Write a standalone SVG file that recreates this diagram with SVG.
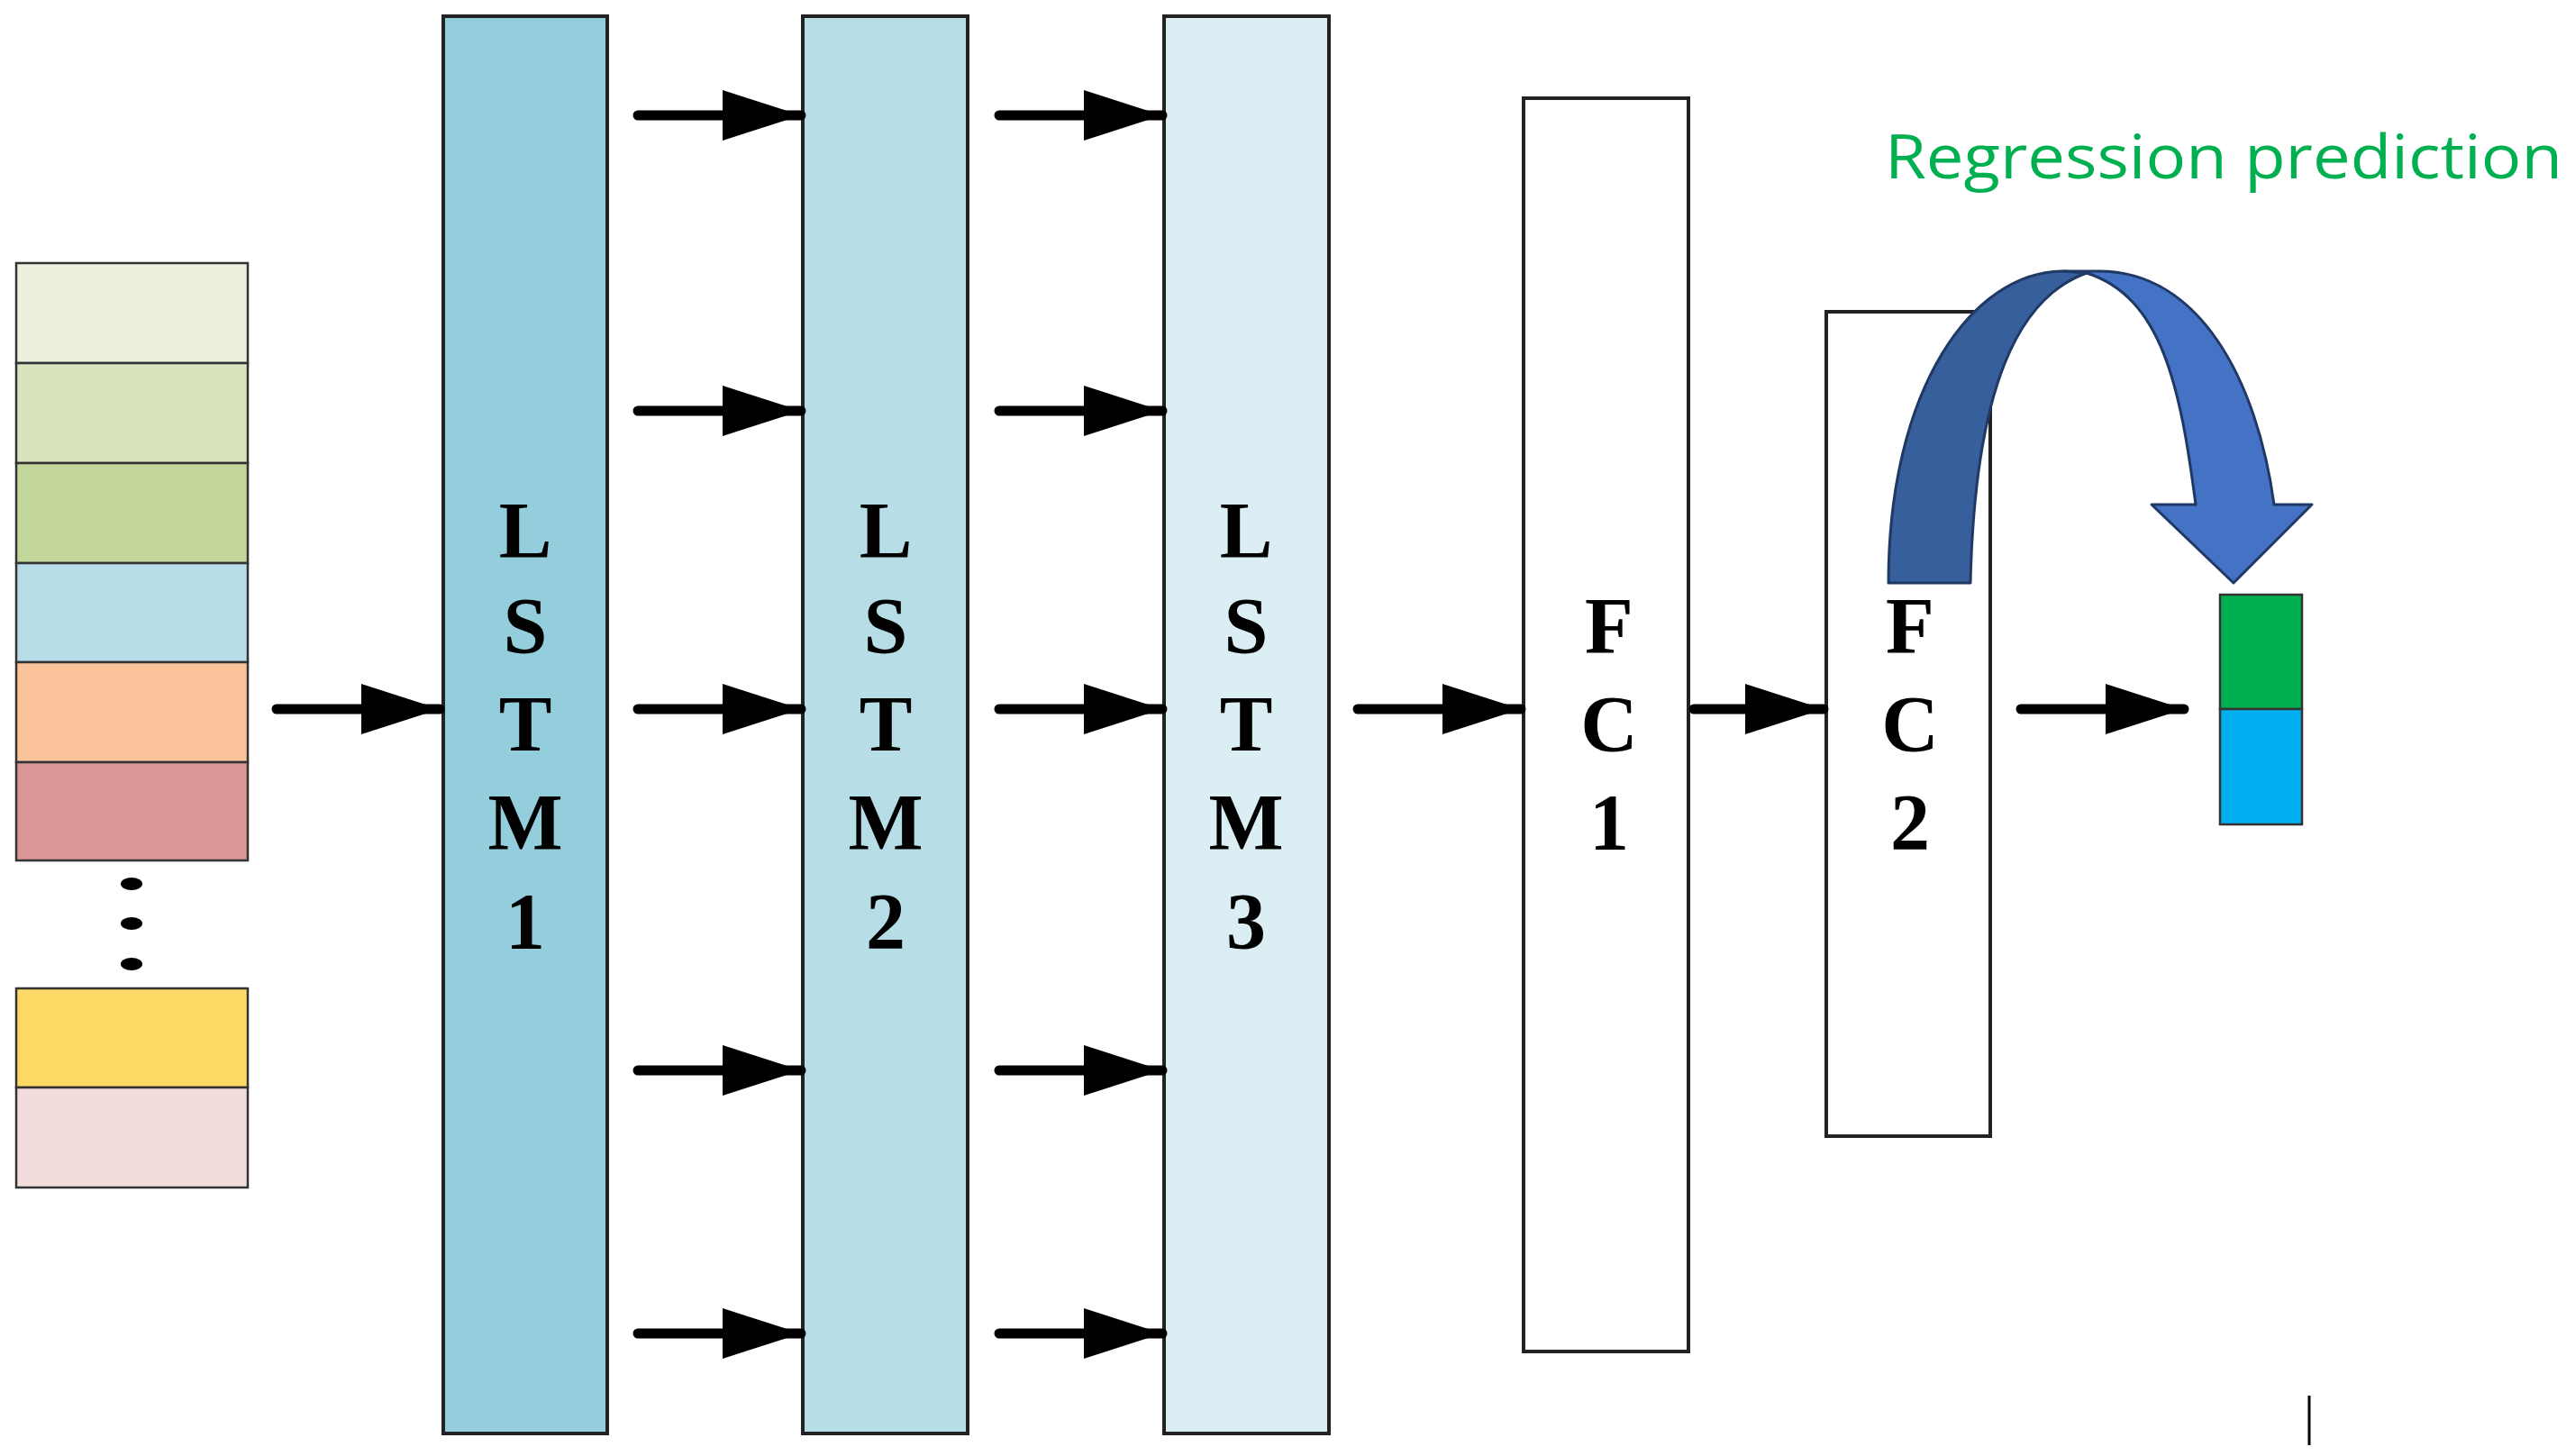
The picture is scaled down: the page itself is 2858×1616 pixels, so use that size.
<svg xmlns="http://www.w3.org/2000/svg" width="2858" height="1616" viewBox="0 0 2858 1616">
<defs>
<style>
.blk{stroke:#222;stroke-width:4}
.cell{stroke:#333;stroke-width:2.5}
.lt{font-family:"Liberation Serif",serif;font-weight:bold;font-size:88px;text-anchor:middle;fill:#000}
.ar{stroke:#000;stroke-width:11;stroke-linecap:round;fill:none}
</style>
<marker id="ah" markerUnits="userSpaceOnUse" markerWidth="90" markerHeight="60" refX="87" refY="30" orient="auto"><path d="M0,2 L87,30 L0,58 Z" fill="#000"/></marker>
</defs>
<rect width="2858" height="1616" fill="#fff"/>
<g id="input">
<rect class="cell" x="18" y="292" width="257" height="111" fill="#ebf1de"/>
<rect class="cell" x="18" y="403" width="257" height="111" fill="#d7e4bd"/>
<rect class="cell" x="18" y="514" width="257" height="111" fill="#c3d69b"/>
<rect class="cell" x="18" y="625" width="257" height="110" fill="#b7dde8"/>
<rect class="cell" x="18" y="735" width="257" height="111" fill="#fac39a"/>
<rect class="cell" x="18" y="846" width="257" height="109" fill="#d99694"/>
<ellipse cx="146" cy="981" rx="12" ry="7"/><ellipse cx="146" cy="1025" rx="12" ry="7"/><ellipse cx="146" cy="1070" rx="12" ry="7"/>
<rect class="cell" x="18" y="1097" width="257" height="110" fill="#ffd966"/>
<rect class="cell" x="18" y="1207" width="257" height="111" fill="#f2dcdb"/>
</g>
<g id="lstm1"><rect class="blk" x="492" y="18" width="182" height="1573" fill="#94cddb"/>
<text class="lt" x="583"><tspan x="583" y="618">L</tspan><tspan x="583" y="724">S</tspan><tspan x="583" y="833">T</tspan><tspan x="583" y="942">M</tspan><tspan x="583" y="1052">1</tspan></text></g>
<g id="lstm2"><rect class="blk" x="891" y="18" width="183" height="1573" fill="#b7dde7"/>
<text class="lt"><tspan x="983" y="618">L</tspan><tspan x="983" y="724">S</tspan><tspan x="983" y="833">T</tspan><tspan x="983" y="942">M</tspan><tspan x="983" y="1052">2</tspan></text></g>
<g id="lstm3"><rect class="blk" x="1292" y="18" width="183" height="1573" fill="#dbeef4"/>
<text class="lt"><tspan x="1383" y="618">L</tspan><tspan x="1383" y="724">S</tspan><tspan x="1383" y="833">T</tspan><tspan x="1383" y="942">M</tspan><tspan x="1383" y="1052">3</tspan></text></g>
<g id="fc1"><rect class="blk" x="1691" y="109" width="183" height="1391" fill="#fff"/>
<text class="lt"><tspan x="1786" y="724">F</tspan><tspan x="1786" y="833">C</tspan><tspan x="1786" y="942">1</tspan></text></g>
<g id="fc2"><rect class="blk" x="2027" y="346" width="182" height="915" fill="#fff"/>
<text class="lt"><tspan x="2120" y="724">F</tspan><tspan x="2120" y="833">C</tspan><tspan x="2120" y="942">2</tspan></text></g>
<g id="output">
<rect class="cell" x="2464" y="660" width="91" height="127" fill="#00b050"/>
<rect class="cell" x="2464" y="787" width="91" height="128" fill="#00b0f0"/>
</g>
<g id="connectors">
<line class="ar" x1="307" y1="787" x2="488" y2="787" marker-end="url(#ah)"/>
<line class="ar" x1="708" y1="128" x2="889" y2="128" marker-end="url(#ah)"/>
<line class="ar" x1="708" y1="456" x2="889" y2="456" marker-end="url(#ah)"/>
<line class="ar" x1="708" y1="787" x2="889" y2="787" marker-end="url(#ah)"/>
<line class="ar" x1="708" y1="1188" x2="889" y2="1188" marker-end="url(#ah)"/>
<line class="ar" x1="708" y1="1480" x2="889" y2="1480" marker-end="url(#ah)"/>
<line class="ar" x1="1109" y1="128" x2="1290" y2="128" marker-end="url(#ah)"/>
<line class="ar" x1="1109" y1="456" x2="1290" y2="456" marker-end="url(#ah)"/>
<line class="ar" x1="1109" y1="787" x2="1290" y2="787" marker-end="url(#ah)"/>
<line class="ar" x1="1109" y1="1188" x2="1290" y2="1188" marker-end="url(#ah)"/>
<line class="ar" x1="1109" y1="1480" x2="1290" y2="1480" marker-end="url(#ah)"/>
<line class="ar" x1="1507" y1="787" x2="1688" y2="787" marker-end="url(#ah)"/>
<line class="ar" x1="1880" y1="787" x2="2024" y2="787" marker-end="url(#ah)"/>
<line class="ar" x1="2243" y1="787" x2="2424" y2="787" marker-end="url(#ah)"/>
</g>
<g id="curve" stroke="#1f3864" stroke-width="3" stroke-linejoin="round">
<path d="M2316,303 C2400,330 2420,430 2437,560 L2388,560 L2479,647 L2566,560 L2524,560 C2505,420 2440,301 2330,301 L2290,301 Z" fill="#4472c4"/>
<path d="M2096,647 C2096,430 2190,301 2290,301 L2316,303 C2240,330 2192,430 2187,647 Z" fill="#365f9b"/>
</g>
<text x="2092" y="198" font-family="Open Sans, sans-serif" font-size="68" fill="#00b050" textLength="752" lengthAdjust="spacingAndGlyphs">Regression prediction</text>
<line x1="2563" y1="1549" x2="2563" y2="1604" stroke="#000" stroke-width="3"/>
</svg>
